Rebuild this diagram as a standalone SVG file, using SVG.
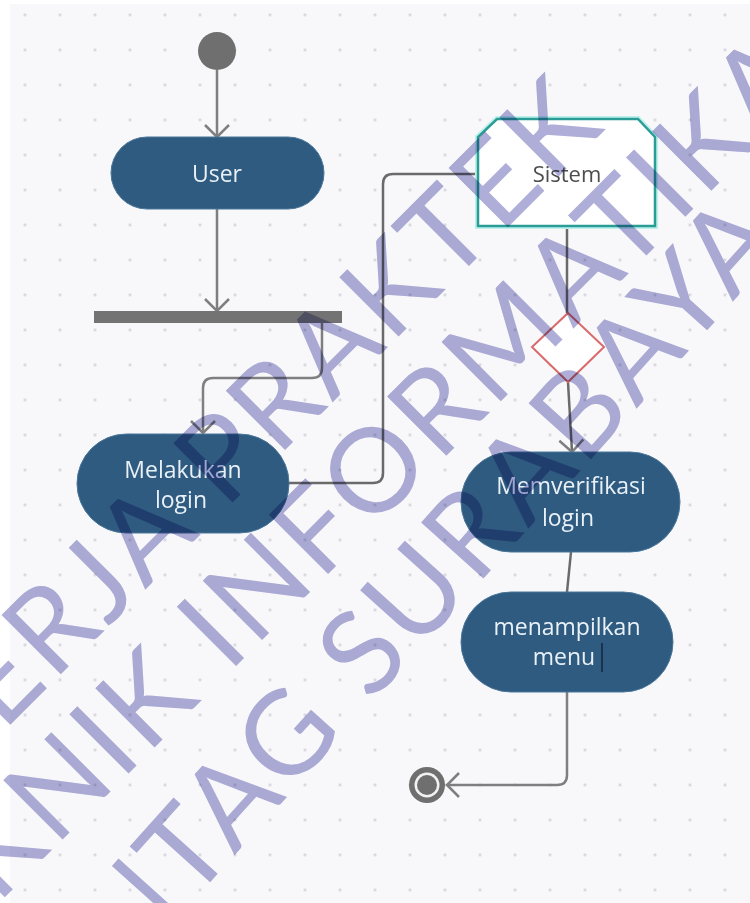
<svg xmlns="http://www.w3.org/2000/svg" width="750" height="903" viewBox="0 0 750 903">
<style>
.pill{fill:#2f5b81;stroke:#4a7699;stroke-width:1}
.lbl{font-family:"Open Sans","Liberation Sans",sans-serif;font-size:23px;fill:#e9f1f7;text-anchor:middle}
.con{fill:none;stroke:#7f7f7f;stroke-width:2.5;stroke-linejoin:round}
.wm{font-family:Lato,"Open Sans",sans-serif;font-size:117px;fill:#aeaed8;letter-spacing:4px;mix-blend-mode:multiply}
</style>
<defs>
<pattern id="dots" x="7.5" y="-2.5" width="35" height="35" patternUnits="userSpaceOnUse">
<circle cx="17.5" cy="17.5" r="1.4" fill="#d2d2d8"/>
</pattern>
<marker id="arr" viewBox="-16 -16 32 32" markerWidth="32" markerHeight="32" refX="0" refY="0" orient="auto" markerUnits="userSpaceOnUse">
<path d="M-12,-12 L0,0 L-12,12" fill="none" stroke="#7f7f7f" stroke-width="2.5"/>
</marker>
</defs>
<rect width="750" height="903" fill="#ffffff"/>
<rect x="10" y="4" width="740" height="899" fill="#f8f8fb"/>
<rect x="10" y="4" width="740" height="899" fill="url(#dots)"/>

<g id="connectors">
<path class="con" d="M217,70 L217,137" marker-end="url(#arr)"/>
<path class="con" d="M217,209 L217,311" marker-end="url(#arr)"/>
<path class="con" d="M322,323 L322,368 Q322,378 312,378 L213,378 Q203,378 203,388 L203,433" marker-end="url(#arr)"/>
<path class="con" style="stroke:#6a6a6a" d="M289,483 L373,483 Q383,483 383,473 L383,184 Q383,174 393,174 L478,174"/>
<path class="con" style="stroke:#6a6a6a" d="M567,226 L567,313"/>
<path class="con" style="stroke:#6a6a6a" d="M568,382 L572,452" marker-end="url(#arr)"/>
<path class="con" style="stroke:#6a6a6a" d="M571,552 L567,592"/>
<path class="con" d="M567,692 L567,775 Q567,785 557,785 L447,785" marker-end="url(#arr)"/>
</g>

<g id="start"><circle cx="217" cy="51" r="19" fill="#6f6f6f"/></g>

<g id="user">
<rect class="pill" x="111" y="137" width="213" height="72" rx="36"/>
<text class="lbl" x="217" y="182">User</text>
</g>

<g id="fork"><rect x="94" y="311" width="248" height="12" fill="#737373"/></g>

<g id="melakukan-login">
<rect class="pill" x="77" y="434" width="212" height="99" rx="49.5"/>
<text class="lbl" x="183" y="478">Melakukan</text>
<text class="lbl" x="181" y="508">login</text>
</g>

<g id="sistem">
<path d="M497,119 L638,119 L655,137 L655,226 L478,226 L478,137 Z" fill="none" stroke="#bff0ec" stroke-width="6"/>
<path d="M497,119 L638,119 L655,137 L655,226 L478,226 L478,137 Z" fill="#ffffff" stroke="#2a9d96" stroke-width="2.5"/>
<text x="567" y="182" font-family="'Open Sans','Liberation Sans',sans-serif" font-size="22" fill="#4d4d4d" text-anchor="middle">Sistem</text>
</g>

<g id="decision">
<path d="M568,313 L604,347 L568,382 L532,347 Z" fill="#ffffff" stroke="#d86a6c" stroke-width="2"/>
</g>

<g id="memverifikasi-login">
<rect class="pill" x="461" y="452" width="219" height="100" rx="50"/>
<text class="lbl" x="571" y="494">Memverifikasi</text>
<text class="lbl" x="568" y="526">login</text>
</g>

<g id="menampilkan-menu">
<rect class="pill" x="461" y="592" width="212" height="100" rx="50"/>
<text class="lbl" x="567" y="635">menampilkan</text>
<text class="lbl" x="564" y="665">menu</text>
<line x1="602" y1="643" x2="602" y2="672" stroke="#14243c" stroke-width="1.5"/>
</g>

<g id="end">
<circle cx="427" cy="785" r="18" fill="#6f6f6f"/>
<circle cx="427" cy="785" r="12.5" fill="#f2f2f2"/>
<circle cx="427" cy="785" r="10" fill="#6f6f6f"/>
</g>

<g id="watermark">
<text class="wm" transform="translate(-55,790) rotate(-45)">KERJA PRAKTEK</text>
<text class="wm" transform="translate(-105,1007) rotate(-45)">TEKNIK INFORMATIKA</text>
<text class="wm" transform="translate(68,1040) rotate(-48)">UNTAG SURABAYA</text>
</g>
</svg>
